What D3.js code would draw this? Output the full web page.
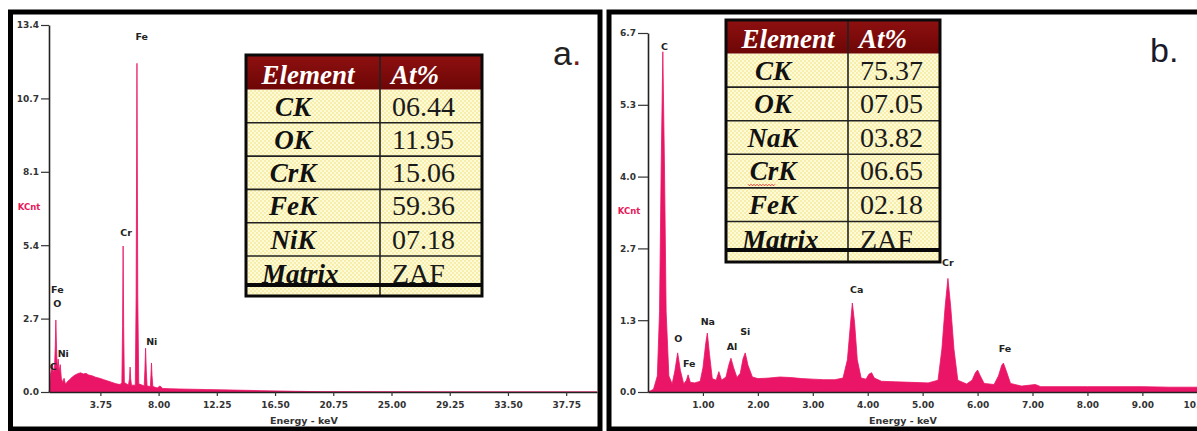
<!DOCTYPE html>
<html><head><meta charset="utf-8">
<script src="https://cdn.jsdelivr.net/npm/d3@7/dist/d3.min.js"></script>
<style>html,body{margin:0;padding:0;background:#fff;overflow:hidden}</style>
</head><body><svg id="c" width="1197" height="431" xmlns="http://www.w3.org/2000/svg"></svg>
<script>
// ---------- DATA ----------
// Spectrum a: [energy keV, counts (KCnt)]
const spectrumA = [
  [0.0,0],[0.05,0.1],[0.1,0.6],[0.18,0.85],[0.26,1.0],[0.33,0.7],[0.4,0.85],[0.46,1.7],[0.5,2.63],[0.55,1.6],
  [0.6,0.85],[0.67,1.2],[0.74,0.75],[0.82,1.0],[0.9,0.5],[1.0,0.35],[1.1,0.5],[1.2,0.28],[1.35,0.38],[1.5,0.45],
  [1.7,0.55],[1.9,0.62],[2.1,0.67],[2.3,0.7],[2.5,0.66],[2.7,0.68],[2.9,0.62],[3.1,0.6],[3.4,0.54],[3.7,0.5],
  [4.0,0.45],[4.3,0.4],[4.6,0.35],[4.9,0.3],[5.2,0.27],[5.32,0.35],[5.37,2.4],[5.41,5.33],[5.45,2.4],[5.5,0.35],
  [5.8,0.25],[5.88,0.5],[5.92,0.91],[5.96,0.5],[6.02,0.25],[6.3,0.25],[6.36,3.5],[6.42,12.0],[6.48,3.5],[6.55,0.3],
  [6.95,0.22],[7.0,0.8],[7.05,1.6],[7.1,0.8],[7.16,0.22],[7.4,0.2],[7.44,0.6],[7.48,1.06],[7.52,0.6],[7.58,0.2],
  [7.9,0.15],[8.1,0.22],[8.3,0.13],[8.8,0.12],[9.5,0.11],[10.5,0.1],[11.5,0.09],[12.5,0.08],[13.5,0.07],[14.5,0.06],
  [15.5,0.05],[16.5,0.04],[18,0.025],[20,0.012],[24,0.005],[30,0.0],[40,0]
];
// Spectrum b
const spectrumB = [
  [0.0,0],[0.1,0.05],[0.17,0.3],[0.21,1.5],[0.24,4.2],[0.27,6.35],[0.3,4.2],[0.33,1.5],[0.38,0.3],[0.44,0.15],
  [0.49,0.4],[0.54,0.73],[0.59,0.4],[0.65,0.15],[0.7,0.22],[0.73,0.32],[0.77,0.18],[0.85,0.17],[0.95,0.2],[1.0,0.45],
  [1.05,0.9],[1.08,1.1],[1.12,0.7],[1.17,0.25],[1.24,0.22],[1.29,0.38],[1.34,0.22],[1.42,0.28],[1.47,0.5],[1.51,0.63],
  [1.56,0.45],[1.62,0.27],[1.68,0.35],[1.73,0.62],[1.77,0.73],[1.82,0.5],[1.9,0.28],[2.0,0.25],[2.2,0.26],[2.4,0.28],
  [2.6,0.27],[2.8,0.25],[3.0,0.24],[3.2,0.23],[3.4,0.23],[3.55,0.26],[3.63,0.6],[3.68,1.2],[3.72,1.66],[3.76,1.3],
  [3.81,0.6],[3.88,0.26],[3.97,0.24],[4.02,0.33],[4.07,0.36],[4.12,0.26],[4.25,0.2],[4.5,0.19],[4.8,0.18],[5.1,0.17],
  [5.28,0.22],[5.35,0.8],[5.41,1.6],[5.46,2.12],[5.51,1.6],[5.57,0.8],[5.64,0.22],[5.8,0.15],[5.9,0.22],[5.96,0.36],
  [6.0,0.41],[6.05,0.3],[6.12,0.16],[6.3,0.14],[6.38,0.3],[6.44,0.5],[6.47,0.54],[6.52,0.4],[6.6,0.16],[6.8,0.11],
  [7.05,0.14],[7.15,0.1],[7.5,0.1],[8.0,0.1],[8.5,0.1],[9.0,0.1],[9.5,0.09],[10.0,0.09]
];
const peakLabelsA = [
  {t:"Fe",e:6.77,c:12.98},{t:"Cr",e:5.62,c:5.81},{t:"Ni",e:7.50,c:1.84},
  {t:"Fe",e:0.61,c:3.73},{t:"O",e:0.61,c:3.24},{t:"Ni",e:1.04,c:1.41},{t:"C",e:0.31,c:0.92}
];
const peakLabelsB = [
  {t:"C",e:0.30,c:6.44},{t:"O",e:0.55,c:0.99},{t:"Fe",e:0.75,c:0.53},{t:"Na",e:1.09,c:1.31},
  {t:"Al",e:1.53,c:0.84},{t:"Si",e:1.77,c:1.13},{t:"Ca",e:3.80,c:1.91},{t:"Cr",e:5.46,c:2.41},{t:"Fe",e:6.50,c:0.80}
];
const xTicksA = [3.75,8.00,12.25,16.50,20.75,25.00,29.25,33.50,37.75];
const yTicksA = [0,2.68,5.36,8.04,10.72,13.4];
const yTickLabelsA = ["0.0","2.7","5.4","8.1","10.7","13.4"];
const xTicksB = [1,2,3,4,5,6,7,8,9,10];
const yTicksB = [0,1.34,2.68,4.02,5.36,6.7];
const yTickLabelsB = ["0.0","1.3","2.7","4.0","5.3","6.7"];
const tableAElements = ["CK","OK","CrK","FeK","NiK","Matrix"];
const tableAValues = ["06.44","11.95","15.06","59.36","07.18","ZAF"];
const tableBElements = ["CK","OK","NaK","CrK","FeK","Matrix"];
const tableBValues = ["75.37","07.05","03.82","06.65","02.18","ZAF"];

// ---------- DRAW ----------
const svg = d3.select("#c");
const PINK = "#ea1566";
const defs = svg.append("defs");
const pat = defs.append("pattern").attr("id","dots").attr("patternUnits","userSpaceOnUse")
  .attr("width",4).attr("height",4);
pat.append("rect").attr("width",4).attr("height",4).attr("fill","#fdfad8");
pat.append("circle").attr("cx",1).attr("cy",1).attr("r",0.8).attr("fill","#efe070");
pat.append("circle").attr("cx",3).attr("cy",3).attr("r",0.8).attr("fill","#efe070");
const grad = defs.append("linearGradient").attr("id","hdr").attr("x1",0).attr("y1",0).attr("x2",0).attr("y2",1);
grad.append("stop").attr("offset","0%").attr("stop-color","#8e1010");
grad.append("stop").attr("offset","100%").attr("stop-color","#6e0606");

svg.append("rect").attr("width",1197).attr("height",431).attr("fill","#fff");

function panel(cfg){
  const {xs, ys, data, xt, yt, ytl, labels, tickSizeY, padY, kcnt, elabel} = cfg;
  const g = svg.append("g");
  const area = d3.area().x(d=>xs(d[0])).y0(ys(0)).y1(d=>ys(d[1]));
  g.append("path").datum(data).attr("d",area).attr("fill",PINK)
    .attr("stroke",PINK).attr("stroke-width",0.8).attr("stroke-linejoin","round");
  const yAxis = d3.axisLeft(ys).tickValues(yt).tickFormat((d,i)=>ytl[i])
    .tickSize(tickSizeY).tickSizeOuter(0).tickPadding(padY);
  const ga = g.append("g").attr("transform",`translate(${xs.range()[0]},0)`).call(yAxis);
  const xAxis = d3.axisBottom(xs).tickValues(xt).tickFormat(d=>d.toFixed(2)).tickSize(4).tickSizeOuter(0).tickPadding(6);
  const gx = g.append("g").attr("transform",`translate(0,${ys(0)})`).call(xAxis);
  [ga,gx].forEach(a=>{
    a.select(".domain").attr("stroke","#222").attr("stroke-width",1.6);
    a.selectAll(".tick line").attr("stroke","#333").attr("stroke-width",1.2);
    a.selectAll(".tick text").attr("fill","#333").style("font","bold 9px 'DejaVu Sans', sans-serif");
  });
  g.selectAll("text.pl").data(labels).join("text").attr("class","pl")
    .attr("x",d=>xs(d.e)).attr("y",d=>ys(d.c)).attr("text-anchor","middle").attr("dy","0.35em")
    .attr("fill","#222").style("font","bold 9.5px 'DejaVu Sans', sans-serif").text(d=>d.t);
  g.append("text").attr("x",kcnt[0]).attr("y",kcnt[1]).attr("text-anchor","middle").attr("dy","0.35em")
    .attr("fill","#e8185a").style("font","bold 8.5px 'DejaVu Sans', sans-serif").text("KCnt");
  g.append("text").attr("x",elabel[0]).attr("y",elabel[1]).attr("text-anchor","middle")
    .attr("fill","#333").style("font","bold 9.5px 'DejaVu Sans', sans-serif").text("Energy - keV");
}

const xA = d3.scaleLinear().domain([0,40]).range([49,597]);
const yA = d3.scaleLinear().domain([0,13.4]).range([392,25]);
const xB = d3.scaleLinear().domain([0,10]).range([648,1197.3]);
const yB = d3.scaleLinear().domain([0,6.7]).range([392,33]);

panel({xs:xA, ys:yA, data:spectrumA, xt:xTicksA, yt:yTicksA, ytl:yTickLabelsA, labels:peakLabelsA,
  tickSizeY:8, padY:2, kcnt:[29,207], elabel:[304,424]});
panel({xs:xB, ys:yB, data:spectrumB, xt:xTicksB, yt:yTicksB, ytl:yTickLabelsB, labels:peakLabelsB,
  tickSizeY:10, padY:2, kcnt:[629,211], elabel:[903,424]});

function table(cfg, elems, vals, underline){
  const {x,y,w1,w2,headH,rowH,matH,thick,tail} = cfg;
  const g = svg.append("g");
  const W = w1+w2;
  const bodyTop = y+headH;
  const H = headH + rowH*(elems.length-1) + matH + thick + tail;
  g.append("rect").attr("x",x).attr("y",bodyTop).attr("width",W).attr("height",H-headH).attr("fill","url(#dots)");
  g.append("rect").attr("x",x).attr("y",y).attr("width",W).attr("height",headH).attr("fill","url(#hdr)");
  const serif = "'Liberation Serif','Times New Roman',serif";
  g.append("text").attr("x",x+62).attr("y",y+headH-6).attr("text-anchor","middle").attr("fill","#fff")
    .style("font",`italic bold 27px ${serif}`).text("Element");
  g.append("text").attr("x",x+w1+11).attr("y",y+headH-6).attr("fill","#fff")
    .style("font",`italic bold 27px ${serif}`).text("At%");
  elems.forEach((el,i)=>{
    const top = bodyTop + rowH*i;
    const isMat = i===elems.length-1;
    g.append("text").attr("x", isMat ? x+16 : x+47).attr("y", top + (isMat?27:26))
      .attr("text-anchor", isMat?"start":"middle").attr("fill","#111")
      .style("font",`italic bold 27px ${serif}`).text(el);
    g.append("text").attr("x",x+w1+12).attr("y",top+(isMat?27:26)).attr("fill","#1a1a1a")
      .style("font",`28px ${serif}`).text(vals[i]);
    if(i===underline){
      let p = `M${x+22},${top+30}`;
      for(let k=0;k<18;k++) p += ` l1.5,${k%2?-1.5:1.5}`;
      g.append("path").attr("d",p).attr("fill","none").attr("stroke","#e02020").attr("stroke-width",0.9);
    }
    if(!isMat){
      g.append("line").attr("x1",x).attr("x2",x+W).attr("y1",top+rowH).attr("y2",top+rowH)
        .attr("stroke","#222").attr("stroke-width",1.6);
    }
  });
  const thickY = bodyTop + rowH*(elems.length-1) + matH;
  g.append("line").attr("x1",x+w1).attr("x2",x+w1).attr("y1",y).attr("y2",y+H).attr("stroke","#222").attr("stroke-width",1.6);
  g.append("rect").attr("x",x).attr("y",thickY).attr("width",W).attr("height",thick).attr("fill","#0a0a0a");
  g.append("rect").attr("x",x).attr("y",y).attr("width",W).attr("height",H).attr("fill","none")
    .attr("stroke","#0a0a0a").attr("stroke-width",3);
}
table({x:246,y:55,w1:134,w2:102,headH:34.5,rowH:33.3,matH:27,thick:4,tail:9}, tableAElements, tableAValues, -1);
table({x:726,y:20,w1:122,w2:92,headH:33.5,rowH:33.6,matH:26.5,thick:4,tail:10}, tableBElements, tableBValues, 3);

// panel letters
const la = svg.append("text").attr("x",553).attr("y",65).style("font","34px 'Liberation Sans', Arial, sans-serif").attr("fill","#222");
la.append("tspan").text("a");
la.append("tspan").attr("fill","#7a1a1a").text(".");
svg.append("text").attr("x",1150).attr("y",62).style("font","34px 'Liberation Sans', Arial, sans-serif").attr("fill","#1a1a2a").text("b.");

// frames
svg.append("rect").attr("x",10.5).attr("y",12).attr("width",589.5).attr("height",417).attr("fill","none").attr("stroke","#000").attr("stroke-width",5);
svg.append("rect").attr("x",609).attr("y",12).attr("width",600).attr("height",417).attr("fill","none").attr("stroke","#000").attr("stroke-width",5);
</script></body></html>
